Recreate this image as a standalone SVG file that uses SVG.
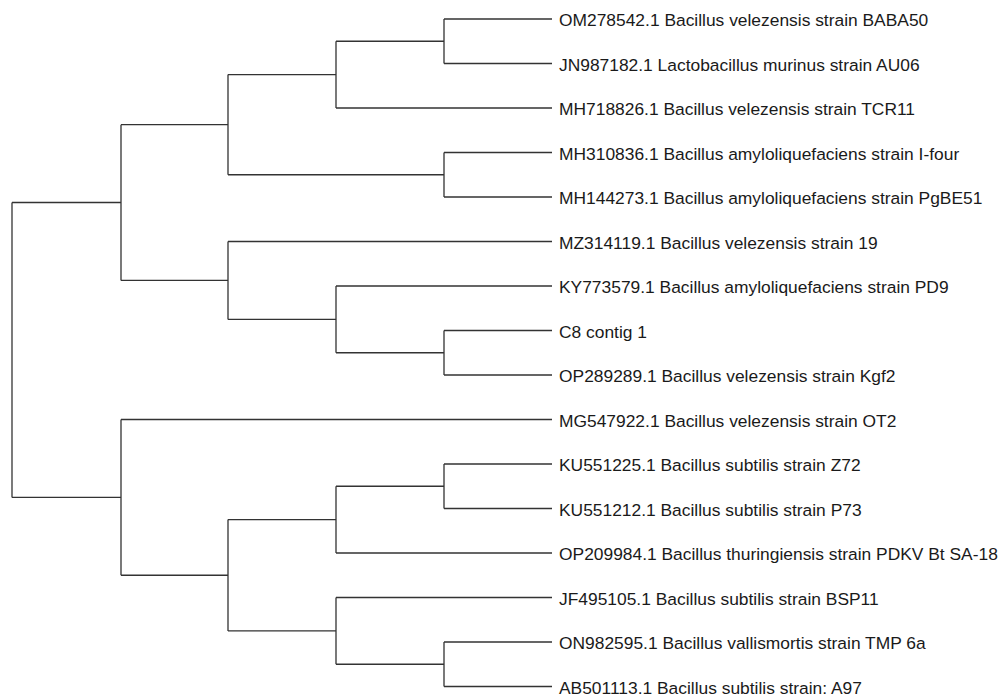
<svg xmlns="http://www.w3.org/2000/svg" width="1003" height="696" viewBox="0 0 1003 696">
<style>
.br{fill:none;stroke:#333;stroke-width:1.3}
.lb{font-family:"Liberation Sans",Arial,sans-serif;font-size:17.4px;fill:#1a1a1a}
</style>
<rect width="1003" height="696" fill="#fff"/>
<g id="connectors" class="br">
<path d="M12 202.5V497.4"/>
<path d="M12 202.5H121M121 124.7V280.4"/>
<path d="M121 124.7H228M228 74.6V174.75"/>
<path d="M228 74.6H336M336 41.25V108"/>
<path d="M336 41.25H444M444 19V63.5"/>
<path d="M444 19H552M444 63.5H552M336 108H552"/>
<path d="M228 174.75H444M444 152.5V197M444 152.5H552M444 197H552"/>
<path d="M121 280.4H228M228 241.5V319.4M228 241.5H552"/>
<path d="M228 319.4H336M336 286V352.75M336 286H552"/>
<path d="M336 352.75H444M444 330.5V375M444 330.5H552M444 375H552"/>
<path d="M12 497.4H121M121 419.5V575.25M121 419.5H552"/>
<path d="M121 575.25H228M228 519.6V630.9"/>
<path d="M228 519.6H336M336 486.25V553M336 553H552"/>
<path d="M336 486.25H444M444 464V508.5M444 464H552M444 508.5H552"/>
<path d="M228 630.9H336M336 597.5V664.25M336 597.5H552"/>
<path d="M336 664.25H444M444 642V686.5M444 642H552M444 686.5H552"/>
</g>
<g id="leaf1"><text class="lb" x="559" y="26">OM278542.1 Bacillus velezensis strain BABA50</text></g>
<g id="leaf2"><text class="lb" x="559" y="70.5">JN987182.1 Lactobacillus murinus strain AU06</text></g>
<g id="leaf3"><text class="lb" x="559" y="115">MH718826.1 Bacillus velezensis strain TCR11</text></g>
<g id="leaf4"><text class="lb" x="559" y="159.5">MH310836.1 Bacillus amyloliquefaciens strain I-four</text></g>
<g id="leaf5"><text class="lb" x="559" y="204">MH144273.1 Bacillus amyloliquefaciens strain PgBE51</text></g>
<g id="leaf6"><text class="lb" x="559" y="248.5">MZ314119.1 Bacillus velezensis strain 19</text></g>
<g id="leaf7"><text class="lb" x="559" y="293">KY773579.1 Bacillus amyloliquefaciens strain PD9</text></g>
<g id="leaf8"><text class="lb" x="559" y="337.5">C8 contig 1</text></g>
<g id="leaf9"><text class="lb" x="559" y="382">OP289289.1 Bacillus velezensis strain Kgf2</text></g>
<g id="leaf10"><text class="lb" x="559" y="426.5">MG547922.1 Bacillus velezensis strain OT2</text></g>
<g id="leaf11"><text class="lb" x="559" y="471">KU551225.1 Bacillus subtilis strain Z72</text></g>
<g id="leaf12"><text class="lb" x="559" y="515.5">KU551212.1 Bacillus subtilis strain P73</text></g>
<g id="leaf13"><text class="lb" x="559" y="560">OP209984.1 Bacillus thuringiensis strain PDKV Bt SA-18</text></g>
<g id="leaf14"><text class="lb" x="559" y="604.5">JF495105.1 Bacillus subtilis strain BSP11</text></g>
<g id="leaf15"><text class="lb" x="559" y="649">ON982595.1 Bacillus vallismortis strain TMP 6a</text></g>
<g id="leaf16"><text class="lb" x="559" y="693.5">AB501113.1 Bacillus subtilis strain: A97</text></g>
</svg>
